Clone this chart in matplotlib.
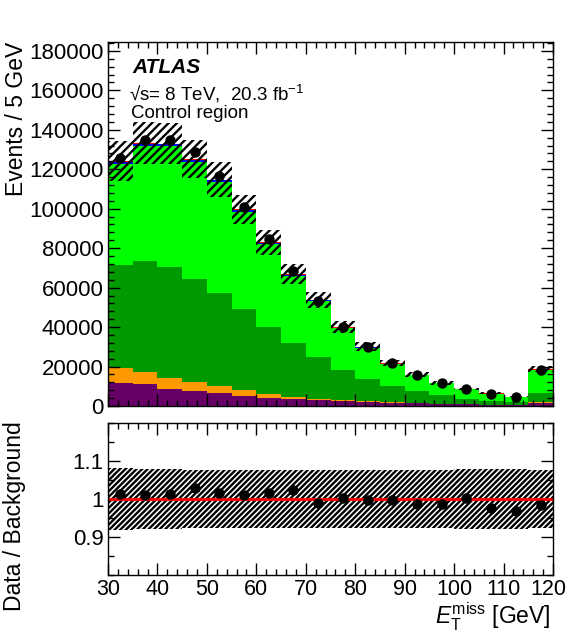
import matplotlib
matplotlib.use('Agg')
import matplotlib.pyplot as plt
import numpy as np
from matplotlib.ticker import MultipleLocator, FixedLocator

plt.rcParams['font.family'] = ['Liberation Sans', 'DejaVu Sans']
plt.rcParams['mathtext.fontset'] = 'custom'
plt.rcParams['mathtext.rm'] = 'Liberation Sans'
plt.rcParams['mathtext.it'] = 'Liberation Sans:italic'
plt.rcParams['hatch.linewidth'] = 1.7

# bin edges of the missing-ET distribution (GeV), last bin holds the overflow
edges = np.arange(30, 125, 5)

# background stack, bottom to top (events / 5 GeV)
bkg_purple = [11800, 11000, 8600, 7500, 6800, 5100, 4200, 3400, 3000, 2400, 2000, 1600, 1300, 1000, 800, 600, 500, 1500]
bkg_orange = [7300, 6400, 5800, 4500, 3500, 3000, 2100, 1300, 800, 600, 450, 350, 300, 250, 200, 150, 120, 400]
bkg_dkgreen = [52400, 56300, 55900, 52500, 47100, 41000, 33700, 27200, 21200, 15300, 11250, 8250, 6000, 4150, 2600, 1650, 1380, 4900]
bkg_ltgreen = [51300, 58150, 61250, 59180, 56200, 49420, 42050, 33970, 28100, 21120, 15900, 11080, 7860, 6120, 4780, 3820, 2560, 11550]
bkg_blue = [900, 1000, 1000, 900, 800, 700, 600, 500, 400, 300, 250, 200, 150, 120, 90, 70, 50, 150]
bkg_red = [400, 450, 450, 420, 400, 380, 350, 330, 300, 280, 250, 220, 190, 160, 130, 110, 90, 300]

# observed data
data = [125800, 134600, 134600, 128700, 116600, 100700, 84400, 68300, 53300, 40100, 30000, 21650, 15600, 11650, 8630, 6250, 4550, 18500]

# relative uncertainty on total background
bkg_unc = [0.081, 0.079, 0.078, 0.077, 0.076, 0.076, 0.076, 0.076, 0.076, 0.076, 0.076, 0.076, 0.077, 0.077, 0.078, 0.079, 0.080, 0.077]

xticks = [30, 40, 50, 60, 70, 80, 90, 100, 110, 120]

stack = [bkg_purple, bkg_orange, bkg_dkgreen, bkg_ltgreen, bkg_blue, bkg_red]
colors = ['#660066', '#ff9900', '#009900', '#00ff00', '#0000ff', '#ff0000']

W, H = 568, 642
fig = plt.figure(figsize=(W/100, H/100), dpi=100)
ax = fig.add_axes([108/W, 1-406/H, 445/W, 364/H])
axr = fig.add_axes([108/W, 1-575/H, 445/W, 152/H])

lefts = edges[:-1]
centers = lefts + 2.5
bottom = np.zeros(len(lefts))
for vals, c in zip(stack, colors):
    ax.bar(lefts, vals, width=5, bottom=bottom, align='edge', color=c, linewidth=0)
    bottom = bottom + np.array(vals)
total = bottom
unc = np.array(bkg_unc)

ax.bar(lefts, 2*unc*total, width=5, bottom=total*(1-unc), align='edge',
       fill=False, hatch='////', edgecolor='black', linewidth=0)
ax.errorbar(centers, data, yerr=np.sqrt(data), fmt='o', color='black', ms=6.5, elinewidth=1)

ax.set_xlim(30, 120)
ax.set_ylim(0, 184500)
ax.yaxis.set_major_locator(MultipleLocator(20000))
ax.yaxis.set_minor_locator(MultipleLocator(4000))
ax.xaxis.set_major_locator(MultipleLocator(10))
ax.xaxis.set_minor_locator(MultipleLocator(2))
ax.tick_params(axis='x', labelbottom=False)

ratio = np.array(data) / total
axr.bar(lefts, 2*unc, width=5, bottom=1-unc, align='edge',
        fill=False, hatch='//////', edgecolor='black', linewidth=0)
axr.axhline(1, color='red', lw=2)
axr.errorbar(centers, ratio, yerr=np.sqrt(data)/total, fmt='o', color='black', ms=6.5, elinewidth=1)
axr.set_xlim(30, 120)
axr.set_ylim(0.8, 1.2)
axr.yaxis.set_minor_locator(MultipleLocator(0.05))
axr.xaxis.set_minor_locator(MultipleLocator(2))
axr.set_yticks([0.9, 1.0, 1.1])
axr.set_yticklabels(['0.9', '1', '1.1'])
# last label drawn separately so it stays inside the canvas
axr.set_xticks(xticks)
axr.set_xticklabels([str(t) for t in xticks[:-1]] + [''])

for a in (ax, axr):
    a.tick_params(which='both', direction='in', top=True, right=True, labelsize=16)
    a.tick_params(which='major', length=8.5, width=1)
    a.tick_params(which='minor', length=4.5, width=1)
    a.tick_params(axis='x', pad=3, labelsize=15.5)
    a.tick_params(axis='y', pad=3)
    for s in a.spines.values():
        s.set_linewidth(1)

axr.annotate(str(xticks[-1]), xy=(xticks[-1], 0), xycoords=('data', 'axes fraction'),
             xytext=(-3, -3), textcoords='offset points', ha='center', va='top', fontsize=15.5)

ax.text(0.056, 0.914, 'ATLAS', transform=ax.transAxes, fontsize=15,
        fontweight='bold', fontstyle='italic', va='baseline', ha='left')
ax.text(0.047, 0.840, '√s= 8 TeV,  20.3 fb$^{-1}$', transform=ax.transAxes,
        fontsize=13.5, va='baseline', ha='left')
ax.text(0.052, 0.792, 'Control region', transform=ax.transAxes,
        fontsize=13.5, va='baseline', ha='left')

fig.text(17/W, 1-42/H, 'Events / 5 GeV', rotation=90, ha='center', va='top', fontsize=16.5)
fig.text(15/W, 1-421/H, 'Data / Background', rotation=90, ha='center', va='top', fontsize=16.5)
fig.text(551/W, 1-617/H, r'$E_{\mathrm{T}}^{\mathrm{miss}}$ [GeV]', ha='right', va='center', fontsize=16.5)

fig.savefig('out.png', dpi=100)
